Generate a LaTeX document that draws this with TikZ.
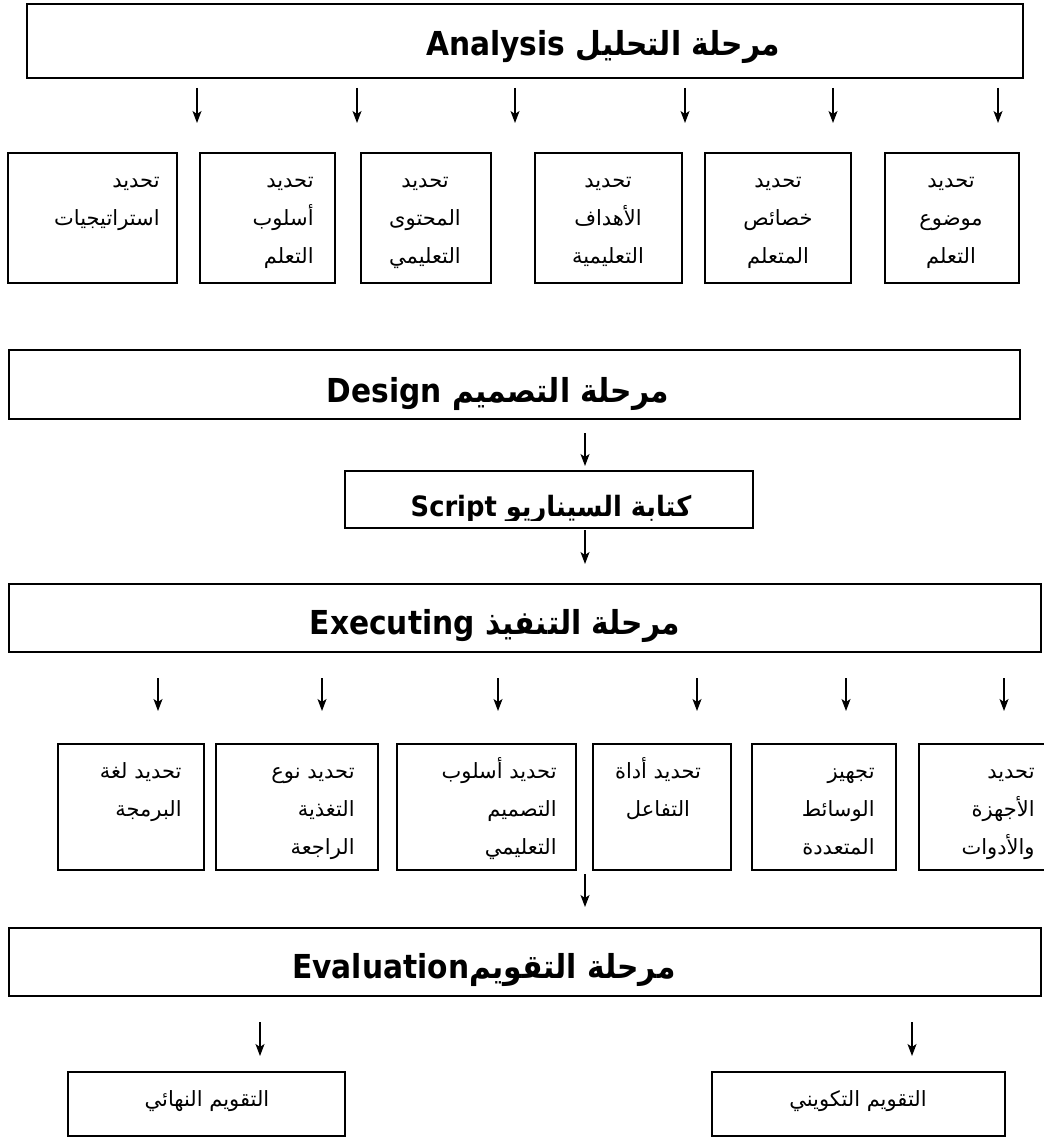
\documentclass[tikz,border=0pt]{standalone}
\usepackage{fontspec}
\usepackage{graphicx}
\setmainfont{Liberation Sans}
\newfontfamily\arabicfont[Script=Arabic]{DejaVu Sans}
\TeXXeTstate=1
\usetikzlibrary{arrows.meta}
\newcommand\RL[1]{\beginR #1\endR}
\newcommand\LR[1]{\beginL #1\endL}
\newcommand\hd[1]{\scalebox{0.9}[1]{#1}}
\newcommand\shd[1]{\scalebox{0.92}[1]{#1}}
\tikzset{
  pbox/.style={draw, line width=1pt, inner sep=0pt},
  arr/.style={-{Stealth[length=6pt,width=4.5pt,inset=1.5pt]}, line width=0.6pt},
  head/.style={font=\arabicfont\bfseries\fontsize{16.5}{18}\selectfont, inner sep=0pt, anchor=base},
  shead/.style={font=\arabicfont\bfseries\fontsize{14}{16}\selectfont, inner sep=0pt, anchor=base},
  body/.style={font=\arabicfont\fontsize{10.5}{19}\selectfont, inner sep=0pt},
  rbody/.style={body, align=right, anchor=base east},
  cbody/.style={body, align=center, anchor=base},
}
\newcommand\mkbox[5]{\node[pbox, minimum width={(#4-#2)*0.5pt}, minimum height={(#5-#3)*0.5pt}] (#1) at ({(#2+#4)/2},{(#3+#5)/2}) {};}
\begin{document}
\begin{tikzpicture}[x=0.5pt,y=-0.5pt]
\useasboundingbox (0,0) rectangle (1043,1138);
% ---------- Analysis
\mkbox{top}{27}{4}{1023}{78}
\node[head] (tophd) at (603,56) {\hd{\RL{مرحلة التحليل \LR{Analysis}}}};
\mkbox{a1}{8}{153}{177}{283}
\mkbox{a2}{200}{153}{335}{283}
\mkbox{a3}{361}{153}{491}{283}
\mkbox{a4}{535}{153}{682}{283}
\mkbox{a5}{705}{153}{851}{283}
\mkbox{a6}{885}{153}{1019}{283}
\node[rbody] (a1t) at (160,226) {\RL{تحديد}\\\RL{استراتيجيات}};
\node[rbody] (a2t) at (314,264) {\RL{تحديد}\\\RL{أسلوب}\\\RL{التعلم}};
\node[cbody] (a3t) at (425,264) {\RL{تحديد}\\\RL{المحتوى}\\\RL{التعليمي}};
\node[cbody] (a4t) at (608,264) {\RL{تحديد}\\\RL{الأهداف}\\\RL{التعليمية}};
\node[cbody] (a5t) at (778,264) {\RL{تحديد}\\\RL{خصائص}\\\RL{المتعلم}};
\node[cbody] (a6t) at (951,264) {\RL{تحديد}\\\RL{موضوع}\\\RL{التعلم}};
\foreach \x [count=\i] in {197,357,515,685,833,998}{
  \coordinate (ra\i) at (\x,100);
  \draw[arr, shorten <=4.5pt, shorten >=14.5pt] (top.south -| ra\i) -- (a1.north -| ra\i);
}
% ---------- Design
\mkbox{design}{9}{350}{1020}{419}
\node[head] (dhd) at (498,402) {\hd{\RL{مرحلة التصميم \LR{Design}}}};
\mkbox{script}{345}{471}{753}{528}
\begin{scope}
\clip (345,471) rectangle (753,520);
\node[shead] (shd) at (551,516) {\shd{\RL{كتابة السيناريو \LR{Script}}}};
\end{scope}
\coordinate (cm) at (585,450);
\draw[arr, shorten <=6.5pt, shorten >=2pt] (design.south -| cm) -- (script.north -| cm);
% ---------- Executing
\mkbox{exec}{9}{584}{1041}{652}
\node[head] (ehd) at (495,634) {\hd{\RL{مرحلة التنفيذ \LR{Executing}}}};
\draw[arr, shorten <=0.5pt, shorten >=9.5pt] (script.south -| cm) -- (exec.north -| cm);
\mkbox{e1}{58}{744}{204}{870}
\mkbox{e2}{216}{744}{378}{870}
\mkbox{e3}{397}{744}{576}{870}
\mkbox{e4}{593}{744}{731}{870}
\mkbox{e5}{752}{744}{896}{870}
\mkbox{e6}{919}{744}{1070}{870}
\node[rbody] (e1t) at (182,816) {\RL{تحديد لغة}\\\RL{البرمجة}};
\node[rbody] (e2t) at (355,854) {\RL{تحديد نوع}\\\RL{التغذية}\\\RL{الراجعة}};
\node[rbody] (e3t) at (557,854) {\RL{تحديد أسلوب}\\\RL{التصميم}\\\RL{التعليمي}};
\node[cbody] (e4t) at (658,816) {\RL{تحديد أداة}\\\RL{التفاعل}};
\node[rbody] (e5t) at (875,854) {\RL{تجهيز}\\\RL{الوسائط}\\\RL{المتعددة}};
\node[rbody] (e6t) at (1035,854) {\RL{تحديد}\\\RL{الأجهزة}\\\RL{والأدوات}};
\foreach \x [count=\i] in {158,322,498,697,846,1004}{
  \coordinate (re\i) at (\x,690);
  \draw[arr, shorten <=12.5pt, shorten >=16pt] (exec.south -| re\i) -- (e1.north -| re\i);
}
% ---------- Evaluation
\mkbox{eval}{9}{928}{1041}{996}
\node[head] (vhd) at (484,978) {\hd{\RL{مرحلة التقويم\LR{Evaluation}}}};
\draw[arr, shorten <=1.5pt, shorten >=10pt] (e3.south -| cm) -- (eval.north -| cm);
\mkbox{f1}{68}{1072}{345}{1136}
\mkbox{f2}{712}{1072}{1005}{1136}
\node[cbody] (f1t) at (207,1106) {\RL{التقويم النهائي}};
\node[cbody] (f2t) at (858,1106) {\RL{التقويم التكويني}};
\coordinate (g1) at (260,1030);
\coordinate (g2) at (912,1030);
\draw[arr, shorten <=12.5pt, shorten >=7.5pt] (eval.south -| g1) -- (f1.north -| g1);
\draw[arr, shorten <=12.5pt, shorten >=7.5pt] (eval.south -| g2) -- (f2.north -| g2);
\end{tikzpicture}
\end{document}
